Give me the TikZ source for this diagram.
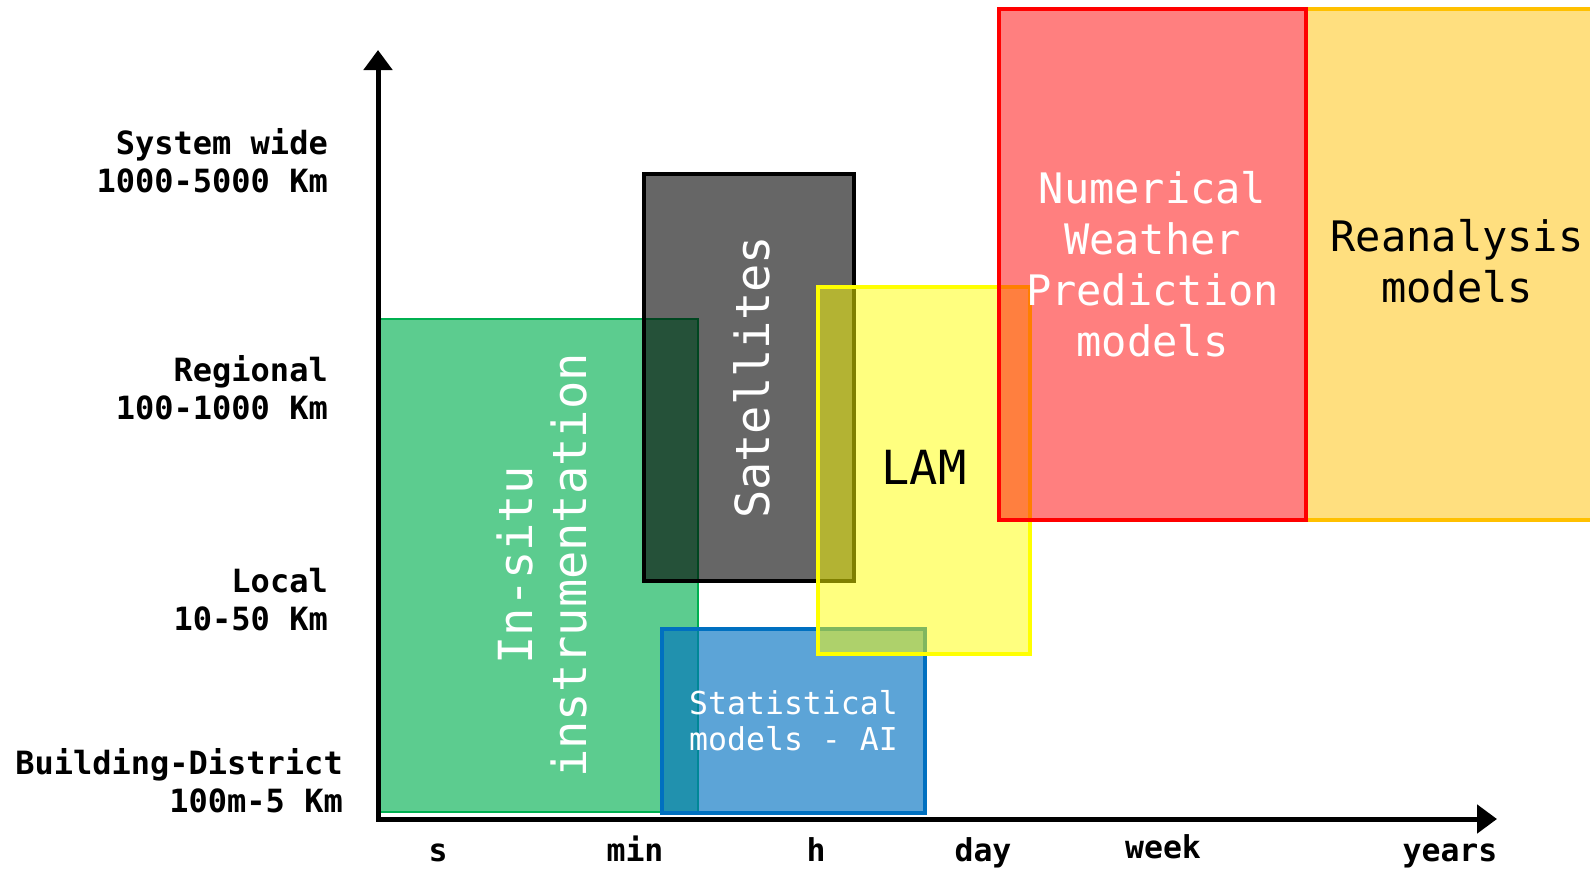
\documentclass[tikz,border=0pt]{standalone}
\usepackage{fontspec}
\setmainfont{DejaVu Sans Mono}
\usetikzlibrary{arrows.meta}
\definecolor{grn}{HTML}{00B050}
\definecolor{blu}{HTML}{0070C0}
\definecolor{orn}{HTML}{FFC000}
\definecolor{ylw}{RGB}{255,255,0}
\begin{document}
\begin{tikzpicture}[x=1pt,y=-1pt,
  box/.style={draw, rectangle, inner sep=0pt, anchor=north west, text opacity=1},
  ylab/.style={anchor=east, align=right, inner sep=0pt, font=\fontsize{32}{38}\selectfont\bfseries},
  xlab/.style={anchor=base, inner sep=0pt, font=\fontsize{31.5}{38}\selectfont\bfseries},
  big/.style={align=center, inner sep=0pt, font=\fontsize{47}{54}\selectfont},
  mid/.style={align=center, inner sep=0pt, font=\fontsize{42}{51}\selectfont},
  small/.style={align=center, inner sep=0pt, font=\fontsize{31.5}{36}\selectfont},
  axis/.style={line width=5pt, line join=miter, {Triangle[length=20pt,width=28pt]}-{Triangle[length=20pt,width=28pt]}}
]
\useasboundingbox (0,0) rectangle (1590,870);
\begin{scope}
\clip (0,0) rectangle (1590,870);
% boxes
\node[box, draw=grn, line width=2pt, fill=grn, fill opacity=0.64, minimum width=318pt, minimum height=493pt] (insitu) at (379,318) {};
\node[box, draw=black, line width=4pt, fill=black, fill opacity=0.6, minimum width=210pt, minimum height=407pt] (sat) at (642,172) {};
\node[box, draw=blu, line width=4pt, fill=blu, fill opacity=0.64, minimum width=263pt, minimum height=184pt] (stat) at (660,627) {};
\node[box, draw=ylw, line width=4pt, fill=ylw, fill opacity=0.5, minimum width=212pt, minimum height=367pt] (lam) at (816,285) {};
\node[box, draw=orn, line width=4pt, fill=orn, fill opacity=0.5, minimum width=302pt, minimum height=511pt] (rean) at (1304,7) {};
\node[box, draw=red, line width=4pt, fill=red, fill opacity=0.5, minimum width=307pt, minimum height=511pt] (nwp) at (997,7) {};
% box texts
\node[big, white, rotate=90] (tinsitu) at ([xshift=3pt]insitu.center) {In-situ\\instrumentation};
\node[big, white, rotate=90] (tsat) at ([xshift=3pt]sat.center) {Satellites};
\node[big, black] (tlam) at ([yshift=3pt]lam.center) {LAM};
\node[mid, white] (tnwp) at (nwp.center) {Numerical\\Weather\\Prediction\\models};
\node[mid, black] (trean) at ([yshift=3pt]rean.center) {Reanalysis\\models};
\node[small, white] (tstat) at (stat.center) {Statistical\\models - AI};
\end{scope}
% axes
\coordinate (ytop) at (378,50);
\coordinate (xend) at (1497,819);
\draw[axis] (ytop) |- (xend);
% y labels
\node[ylab] (ysys) at (328,161) {System wide\\1000-5000 Km};
\node[ylab] (yreg) at (328,388) {Regional\\100-1000 Km};
\node[ylab] (yloc) at (328,600) {Local\\10-50 Km};
\node[ylab] (ybld) at (343,781) {Building-District\\100m-5 Km};
% x labels
\node[xlab] (xs) at (438,861) {s};
\node[xlab] (xmin) at (635,861) {min};
\node[xlab] (xh) at (816,861) {h};
\node[xlab] (xday) at (983,861) {day};
\node[xlab] (xweek) at (1163,858) {week};
\node[xlab] (xyears) at (1450,861) {years};
\end{tikzpicture}
\end{document}
